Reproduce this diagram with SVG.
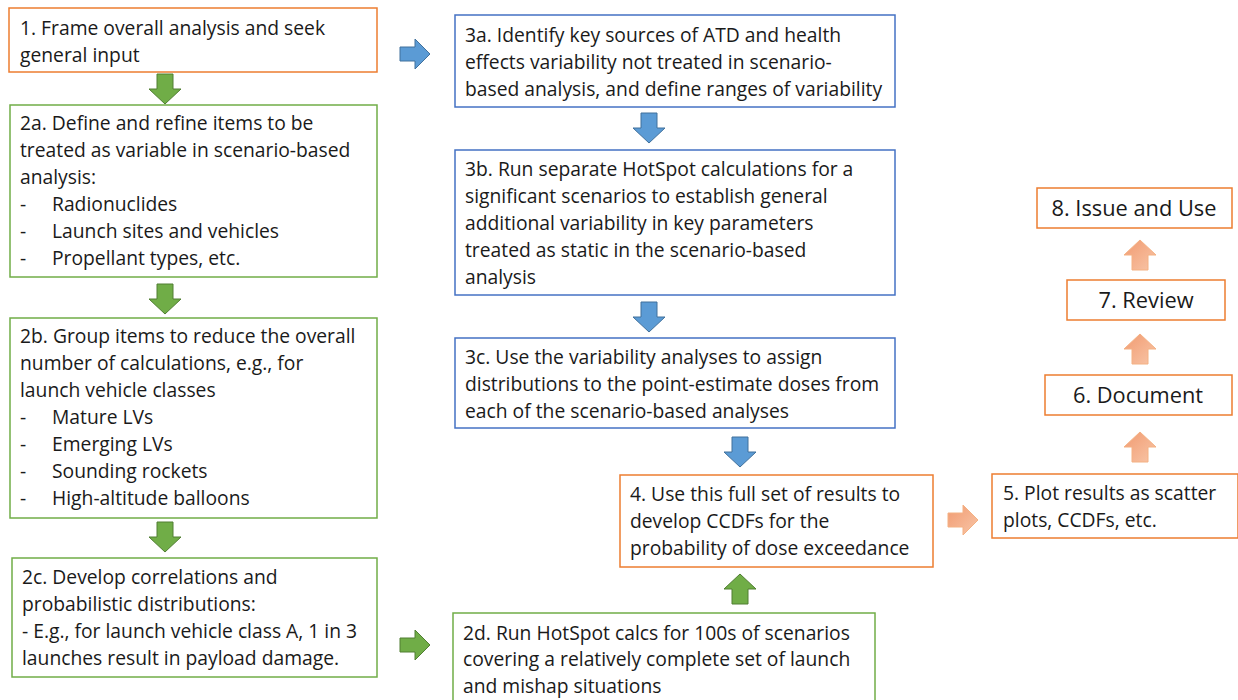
<svg xmlns="http://www.w3.org/2000/svg" width="1238" height="700" viewBox="0 0 1238 700">
<defs>
<style>
.box{fill:#fff;stroke-width:1.5}
.o{stroke:#ED7D31}.g{stroke:#70AD47}.b{stroke:#4472C4}
text{font-family:"Open Sans","Liberation Sans",sans-serif;font-size:19.3px;fill:#1a1a1a}
.big{font-size:21.8px}
.ga{fill:#70AD47;stroke:#507E32;stroke-width:1}
.ba{fill:#5B9BD5;stroke:#41719C;stroke-width:1}
.sa{fill:url(#sal);stroke:#F4B183;stroke-width:1}
</style>
<linearGradient id="sal" x1="0" y1="0" x2="1" y2="1"><stop offset="0" stop-color="#F19A70"/><stop offset="1" stop-color="#F8C6A8"/></linearGradient>
<path id="dn" d="M-8,0 H8 V15 H16 L0,30 L-16,15 H-8 Z"/>
<path id="up" d="M-8,30 H8 V15 H16 L0,0 L-16,15 H-8 Z"/>
<path id="rt" d="M0,-7 H15 V-15 L30,0 L15,15 V7 H0 Z"/>
</defs>
<g id="connectors">
<use href="#dn" class="ga" x="165" y="74"/>
<use href="#dn" class="ga" x="165" y="284"/>
<use href="#dn" class="ga" x="165" y="522"/>
<use href="#rt" class="ga" x="400" y="645"/>
<use href="#rt" class="ba" x="400" y="54"/>
<use href="#dn" class="ba" x="649" y="113"/>
<use href="#dn" class="ba" x="649" y="302"/>
<use href="#dn" class="ba" x="740" y="437"/>
<use href="#up" class="ga" x="740" y="574"/>
<use href="#rt" class="sa" x="948" y="520"/>
<use href="#up" class="sa" x="1140" y="432"/>
<use href="#up" class="sa" x="1140" y="334"/>
<use href="#up" class="sa" x="1140" y="240"/>
</g>
<g id="n1"><rect class="box o" x="9" y="8" width="368" height="64"/>
<text x="20" y="35">1. Frame overall analysis and seek</text><text x="20" y="62">general input</text></g>
<g id="n2a"><rect class="box g" x="10" y="105" width="367" height="172"/>
<text x="20" y="130">2a. Define and refine items to be</text><text x="20" y="157">treated as variable in scenario-based</text><text x="20" y="184">analysis:</text>
<text x="20" y="211">-</text><text x="52" y="211">Radionuclides</text>
<text x="20" y="238">-</text><text x="52" y="238">Launch sites and vehicles</text>
<text x="20" y="265">-</text><text x="52" y="265">Propellant types, etc.</text></g>
<g id="n2b"><rect class="box g" x="10" y="318" width="367" height="200"/>
<text x="20" y="343">2b. Group items to reduce the overall</text><text x="20" y="370">number of calculations, e.g., for</text><text x="20" y="397">launch vehicle classes</text>
<text x="20" y="424">-</text><text x="52" y="424">Mature LVs</text>
<text x="20" y="451">-</text><text x="52" y="451">Emerging LVs</text>
<text x="20" y="478">-</text><text x="52" y="478">Sounding rockets</text>
<text x="20" y="505">-</text><text x="52" y="505">High-altitude balloons</text></g>
<g id="n2c"><rect class="box g" x="12" y="558" width="365" height="119"/>
<text x="22" y="584">2c. Develop correlations and</text><text x="22" y="611">probabilistic distributions:</text><text x="22" y="638">- E.g., for launch vehicle class A, 1 in 3</text><text x="22" y="665">launches result in payload damage.</text></g>
<g id="n2d"><rect class="box g" x="453" y="613" width="422" height="92"/>
<text x="463" y="640">2d. Run HotSpot calcs for 100s of scenarios</text><text x="463" y="666">covering a relatively complete set of launch</text><text x="463" y="693">and mishap situations</text></g>
<g id="n3a"><rect class="box b" x="455" y="15" width="440" height="92"/>
<text x="465" y="42">3a. Identify key sources of ATD and health</text><text x="465" y="69">effects variability not treated in scenario-</text><text x="465" y="96">based analysis, and define ranges of variability</text></g>
<g id="n3b"><rect class="box b" x="455" y="150" width="440" height="145"/>
<text x="465" y="176">3b. Run separate HotSpot calculations for a</text><text x="465" y="203">significant scenarios to establish general</text><text x="465" y="230">additional variability in key parameters</text><text x="465" y="257">treated as static in the scenario-based</text><text x="465" y="284">analysis</text></g>
<g id="n3c"><rect class="box b" x="455" y="338" width="440" height="90"/>
<text x="465" y="364">3c. Use the variability analyses to assign</text><text x="465" y="391">distributions to the point-estimate doses from</text><text x="465" y="418">each of the scenario-based analyses</text></g>
<g id="n4"><rect class="box o" x="620" y="475" width="313" height="92"/>
<text x="630" y="501">4. Use this full set of results to</text><text x="630" y="528">develop CCDFs for the</text><text x="630" y="555">probability of dose exceedance</text></g>
<g id="n5"><rect class="box o" x="992" y="474" width="246" height="64"/>
<text x="1003" y="500">5. Plot results as scatter</text><text x="1003" y="527">plots, CCDFs, etc.</text></g>
<g id="n6"><rect class="box o" x="1045" y="375" width="187" height="40"/>
<text class="big" x="1138" y="403" text-anchor="middle">6. Document</text></g>
<g id="n7"><rect class="box o" x="1067" y="280" width="158" height="40"/>
<text class="big" x="1146" y="308" text-anchor="middle">7. Review</text></g>
<g id="n8"><rect class="box o" x="1037" y="188" width="195" height="40"/>
<text class="big" x="1134" y="216" text-anchor="middle">8. Issue and Use</text></g>
</svg>
